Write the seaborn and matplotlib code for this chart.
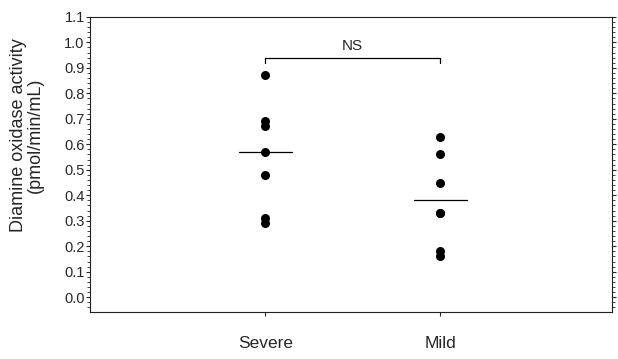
import matplotlib
matplotlib.use("Agg")
import matplotlib.pyplot as plt
from matplotlib.ticker import MultipleLocator
import pandas as pd
import seaborn as sns

# values
severe = [0.87, 0.69, 0.67, 0.57, 0.48, 0.31, 0.29]
mild = [0.63, 0.56, 0.45, 0.33, 0.33, 0.18, 0.16]
groups = ["Severe", "Mild"]
group_lines = [0.57, 0.38]
bracket_y = 0.94
bracket_drop = 0.02

df = pd.DataFrame({
    "group": ["Severe"] * len(severe) + ["Mild"] * len(mild),
    "value": severe + mild,
})

sns.set_style("ticks")
plt.rcParams["font.family"] = ["Liberation Sans", "DejaVu Sans"]

fig = plt.figure(figsize=(6.18, 3.59), dpi=100)
ax = fig.add_axes([0.146, 0.131, 0.844, 0.822])

sns.stripplot(data=df, x="group", y="value", order=groups, jitter=False,
              color="black", size=6.5, ax=ax)

# group mean lines
for i, m in enumerate(group_lines):
    ax.plot([i - 0.15, i + 0.15], [m, m], color="black", lw=0.9)

# NS bracket
ax.plot([0, 0, 1, 1], [bracket_y - bracket_drop, bracket_y, bracket_y, bracket_y - bracket_drop],
        color="black", lw=0.9)
ax.text(0.5, bracket_y + 0.018, "NS", ha="center", va="bottom", fontsize=11)

ax.set_xlim(-1.0, 1.98)
ax.set_ylim(-0.058, 1.1)
ax.yaxis.set_minor_locator(MultipleLocator(0.02))
ax.set_yticks([i / 10 for i in range(12)])
ax.set_yticklabels([f"{i / 10:.1f}" for i in range(12)])
ax.tick_params(axis="y", which="major", length=3, width=0.8, labelsize=10.5, pad=1, right=True)
ax.tick_params(axis="y", which="minor", length=2, width=0.6, right=True)
ax.tick_params(axis="x", length=3, width=0.8, labelsize=12.5, pad=14)

for s in ax.spines.values():
    s.set_visible(True)
    s.set_linewidth(0.8)
    s.set_color("#222222")

ax.set_xlabel("")
ax.set_ylabel("Diamine oxidase activity\n(pmol/min/mL)", fontsize=13, linespacing=1.05)
ax.yaxis.set_label_coords(-0.088, 0.6)

fig.savefig("out.png", dpi=100)
